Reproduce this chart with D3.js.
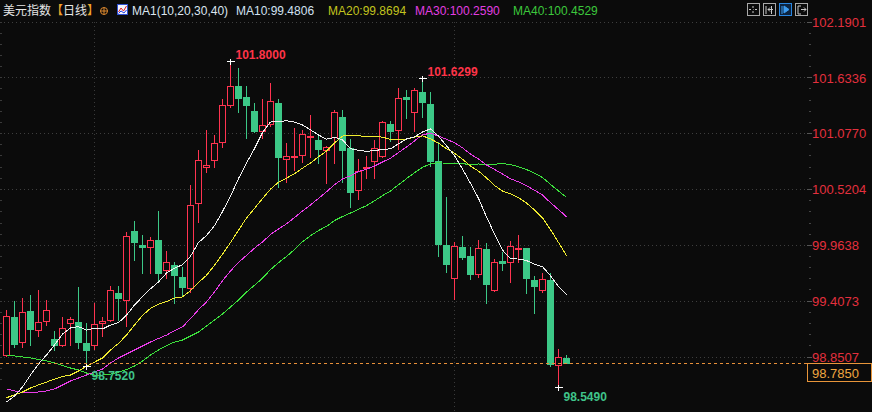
<!DOCTYPE html>
<html><head><meta charset="utf-8">
<script src="https://cdn.jsdelivr.net/npm/d3@7"></script>
<style>
html,body{margin:0;padding:0;background:#0b0b0b;overflow:hidden}
svg{display:block}
</style></head><body>
<svg id="c" width="872" height="412"></svg>
<script>
// ---- data ----
const opens  = [98.863,99.245,98.992,99.305,99.112,99.202,99.025,98.969,99.182,99.195,98.986,98.963,99.182,99.212,99.484,99.411,100.102,99.963,99.940,100.012,99.713,99.760,99.644,99.531,100.378,100.743,100.810,100.987,101.355,101.548,101.438,101.299,101.096,101.166,101.378,100.823,100.840,100.863,101.039,101.009,100.910,101.036,101.236,100.927,100.511,100.727,100.797,100.847,101.169,101.106,101.438,101.286,101.485,101.371,100.800,99.963,99.637,99.940,99.853,99.671,99.920,99.511,99.803,99.790,99.923,99.930,99.614,99.511,99.614,98.766,98.836];
const highs  = [99.315,99.404,99.434,99.464,99.517,99.417,99.108,99.245,99.248,99.544,99.182,99.384,99.248,99.554,99.554,100.092,100.202,100.062,100.045,100.302,99.906,99.793,99.746,100.558,100.910,101.109,101.059,101.415,101.800,101.727,101.548,101.381,101.415,101.581,101.418,100.977,101.126,101.109,101.259,101.069,100.950,101.309,101.309,101.017,100.820,100.850,101.009,101.199,101.199,101.531,101.508,101.525,101.6299,101.488,100.993,100.444,99.996,100.052,99.946,100.010,99.983,99.820,99.893,100.003,100.062,99.933,99.654,99.681,99.681,98.926,98.869];
const lows   = [98.860,98.946,98.948,98.966,99.058,99.165,98.916,98.959,98.966,98.939,98.752,98.926,99.052,99.208,99.212,99.158,99.816,99.681,99.681,99.597,99.631,99.387,99.454,99.497,100.195,100.687,100.743,100.943,101.341,101.292,101.032,101.092,101.032,101.149,100.544,100.594,100.710,100.793,100.843,100.783,100.578,100.783,100.594,100.345,100.424,100.628,100.628,100.840,101.003,100.920,101.232,101.102,101.242,100.753,99.856,99.696,99.421,99.823,99.627,99.641,99.387,99.505,99.713,99.597,99.790,99.481,99.282,99.497,98.759,98.549,98.785];
const closes = [99.255,98.972,99.291,99.128,99.192,99.312,98.969,99.135,99.222,98.999,98.919,99.172,99.205,99.514,99.437,100.052,99.996,99.946,100.015,99.687,99.793,99.667,99.547,100.358,100.807,100.757,100.977,101.355,101.545,101.431,101.355,101.102,101.156,101.395,100.843,100.847,100.850,101.069,101.049,100.920,100.937,101.286,100.913,100.494,100.700,100.737,100.927,101.189,101.102,101.425,101.418,101.505,101.391,100.803,99.976,99.776,99.950,99.846,99.677,99.930,99.577,99.790,99.786,99.953,99.936,99.637,99.557,99.621,98.773,98.846,98.785];

const ma10 = [98.397,98.457,98.547,98.666,98.776,98.866,98.965,99.075,99.135,99.148,99.114,99.134,99.125,99.164,99.188,99.262,99.365,99.446,99.526,99.594,99.682,99.731,99.765,99.850,99.987,100.057,100.155,100.296,100.449,100.624,100.780,100.923,101.084,101.188,101.192,101.201,101.188,101.159,101.110,101.059,101.017,101.035,101.011,100.921,100.907,100.896,100.903,100.915,100.921,100.971,101.019,101.041,101.089,101.120,101.047,100.951,100.854,100.719,100.577,100.427,100.243,100.072,99.911,99.826,99.822,99.808,99.769,99.746,99.656,99.548,99.468];
const ma20 = [98.440,98.467,98.497,98.537,98.567,98.596,98.626,98.651,98.666,98.706,98.755,98.795,98.836,98.915,98.982,99.064,99.165,99.261,99.330,99.371,99.398,99.433,99.445,99.507,99.588,99.660,99.760,99.871,99.987,100.109,100.231,100.327,100.425,100.519,100.589,100.629,100.672,100.728,100.780,100.841,100.898,100.979,101.048,101.054,101.049,101.048,101.046,101.037,101.015,101.015,101.018,101.038,101.050,101.020,100.977,100.923,100.878,100.817,100.749,100.699,100.631,100.556,100.500,100.473,100.435,100.380,100.311,100.233,100.116,99.987,99.856];
const ma30 = [98.527,98.507,98.492,98.487,98.497,98.507,98.527,98.567,98.607,98.636,98.666,98.696,98.726,98.786,98.836,98.876,98.915,98.955,98.995,99.030,99.064,99.107,99.146,99.227,99.317,99.395,99.495,99.606,99.703,99.789,99.859,99.930,99.992,100.067,100.122,100.173,100.236,100.301,100.362,100.426,100.493,100.563,100.620,100.653,100.695,100.718,100.749,100.790,100.827,100.884,100.939,101.000,101.061,101.076,101.048,101.016,100.982,100.931,100.869,100.819,100.760,100.716,100.670,100.622,100.592,100.552,100.509,100.460,100.384,100.315,100.244];
const ma40 = [98.856,98.856,98.846,98.836,98.821,98.806,98.786,98.761,98.736,98.716,98.686,98.666,98.666,98.676,98.696,98.721,98.756,98.806,98.866,98.915,98.960,98.995,99.015,99.055,99.095,99.155,99.215,99.274,99.344,99.414,99.493,99.561,99.631,99.717,99.786,99.847,99.918,99.994,100.055,100.106,100.148,100.206,100.246,100.281,100.318,100.354,100.403,100.454,100.501,100.562,100.624,100.683,100.737,100.770,100.783,100.776,100.775,100.773,100.764,100.770,100.765,100.768,100.774,100.764,100.742,100.714,100.678,100.635,100.566,100.501,100.437];

const yTicks = [98.8507, 99.4073, 99.9638, 100.5204, 101.0770, 101.6336, 102.1901];
const gridCandles = [11, 56];
const lastPrice = 98.7850;
const title = "美元指数";
const period = "日线";
const maParams = "MA1(10,20,30,40)";
const maLegend = [
  {name:"MA10", value:"99.4806", color:"#d2e2f2", line:"#f0f0f0", data: ma10},
  {name:"MA20", value:"99.8694", color:"#c2c41e", line:"#f0ec30", data: ma20},
  {name:"MA30", value:"100.2590", color:"#e23ee2", line:"#e83ce8", data: ma30},
  {name:"MA40", value:"100.4529", color:"#3cc83c", line:"#3ce03c", data: ma40}
];
const extremes = [
  {i:28, value:101.8000, kind:"high"},
  {i:52, value:101.6299, kind:"high"},
  {i:10, value:98.7520, kind:"low"},
  {i:69, value:98.5490, kind:"low"}
];

// ---- drawing ----
const W = 872, H = 412;
const N = closes.length;
const svg = d3.select("#c");
const BG = "#0b0b0b";
const RED = "#ff3350", GREEN = "#3cc887";
svg.append("rect").attr("width", W).attr("height", H).attr("fill", BG);

const x = d3.scaleLinear().domain([0, N - 1]).range([6.5, 6.5 + 8 * (N - 1)]);
const y = d3.scaleLinear().domain([98.8507, 102.1901]).range([356.5, 21.5]);
const py = v => Math.round(y(v)) + 0.5;

const axisX = 810;
// horizontal grid
svg.append("g").selectAll("line").data(yTicks).join("line")
  .attr("x1", 0).attr("x2", axisX + 2)
  .attr("y1", d => py(d)).attr("y2", d => py(d))
  .attr("stroke", "#3e3e3e").attr("stroke-dasharray", "1,3")
  .attr("shape-rendering", "crispEdges");
// vertical grid
svg.append("g").selectAll("line").data(gridCandles).join("line")
  .attr("x1", d => x(d)).attr("x2", d => x(d))
  .attr("y1", 22).attr("y2", 412)
  .attr("stroke", "#3a3a3a").attr("stroke-dasharray", "1,3")
  .attr("shape-rendering", "crispEdges");

// right axis ticks (major + minor)
const yAxis = d3.axisRight(y).tickValues(yTicks).tickFormat(d3.format(".4f")).tickSize(0);
const axG = svg.append("g").attr("transform", `translate(${axisX},0)`).call(yAxis);
axG.select(".domain").remove();
axG.selectAll("text").attr("x", 2).attr("dy", "0.36em")
  .attr("fill", "#e3303e").style("font", "13px 'Liberation Sans', Arial, sans-serif")
  .attr("text-anchor", "start");
const minor = [];
for (let k = 0; k < yTicks.length - 1; k++) {
  for (let m = 1; m < 5; m++) minor.push(yTicks[k] + (yTicks[k + 1] - yTicks[k]) * m / 5);
}
minor.push(yTicks[0] - (yTicks[1]-yTicks[0]) / 5);
minor.push(yTicks[0] - 2*(yTicks[1]-yTicks[0]) / 5);
svg.append("g").selectAll("line").data(minor).join("line")
  .attr("x1", axisX - 1).attr("x2", axisX + 1)
  .attr("y1", d => py(d)).attr("y2", d => py(d))
  .attr("stroke", "#444").attr("shape-rendering", "crispEdges");
svg.append("g").selectAll("line").data(yTicks).join("line")
  .attr("x1", axisX - 3).attr("x2", axisX + 2)
  .attr("y1", d => py(d)).attr("y2", d => py(d))
  .attr("stroke", "#555").attr("shape-rendering", "crispEdges");
// left side minor ticks
svg.append("g").selectAll("line").data(minor.concat(yTicks)).join("line")
  .attr("x1", 0).attr("x2", 2)
  .attr("y1", d => py(d)).attr("y2", d => py(d))
  .attr("stroke", "#3a3a3a").attr("shape-rendering", "crispEdges");

// candles
const cg = svg.append("g").attr("shape-rendering", "crispEdges");
const idx = d3.range(N);
cg.selectAll("line.wick").data(idx).join("line")
  .attr("x1", i => x(i)).attr("x2", i => x(i))
  .attr("y1", i => Math.round(y(highs[i]))).attr("y2", i => Math.round(y(lows[i])) + 1)
  .attr("stroke", i => closes[i] >= opens[i] ? RED : GREEN).attr("stroke-width", 1);
cg.selectAll("rect.body").data(idx).join("rect")
  .attr("x", i => closes[i] >= opens[i] ? x(i) - 3 : x(i) - 3.5)
  .attr("width", i => closes[i] >= opens[i] ? 6 : 7)
  .attr("y", i => {
    const t = Math.round(y(Math.max(opens[i], closes[i])));
    return closes[i] >= opens[i] ? t + 0.5 : t;
  })
  .attr("height", i => {
    const t = Math.round(y(Math.max(opens[i], closes[i])));
    const b = Math.round(y(Math.min(opens[i], closes[i])));
    return closes[i] >= opens[i] ? Math.max(b - t, 1) : Math.max(b - t + 1, 1);
  })
  .attr("fill", i => closes[i] >= opens[i] ? BG : GREEN)
  .attr("stroke", i => closes[i] >= opens[i] ? RED : "none")
  .attr("stroke-width", 1);

// moving averages
const line = d3.line().x((d, i) => x(i)).y(d => y(d));
svg.append("g").selectAll("path").data(maLegend.slice().reverse()).join("path")
  .attr("d", d => line(d.data)).attr("fill", "none")
  .attr("stroke", d => d.line).attr("stroke-width", 1)
  .attr("shape-rendering", "crispEdges");

// last price dashed line + box
const ly = Math.round(y(lastPrice)) + 0.5;
svg.append("line").attr("x1", 0).attr("x2", 807).attr("y1", ly).attr("y2", ly)
  .attr("stroke", "#e8903a").attr("stroke-dasharray", "3,3").attr("shape-rendering", "crispEdges");
svg.append("rect").attr("x", 807.5).attr("y", ly).attr("width", 64).attr("height", 18)
  .attr("fill", BG).attr("stroke", "#e8953a").attr("shape-rendering", "crispEdges");
svg.append("text").attr("x", 812).attr("y", ly + 14).text(d3.format(".4f")(lastPrice))
  .attr("fill", "#f0a640").style("font", "13px 'Liberation Sans', Arial, sans-serif");

// extremes
const eg = svg.append("g");
extremes.forEach(e => {
  const cx = x(e.i), cy = Math.round(y(e.value)) + 0.5;
  eg.append("line").attr("x1", cx - 4).attr("x2", cx + 4).attr("y1", cy).attr("y2", cy)
    .attr("stroke", "#ffffff").attr("shape-rendering", "crispEdges");
  eg.append("line").attr("x1", cx).attr("x2", cx).attr("y1", cy - 3).attr("y2", cy + 3)
    .attr("stroke", "#ffffff").attr("shape-rendering", "crispEdges");
  const tx = cx + 5;
  const ty = e.kind === "high" ? cy - 3 : cy + 13;
  eg.append("text").attr("x", tx).attr("y", ty).text(d3.format(".4f")(e.value))
    .attr("fill", e.kind === "high" ? "#ff3448" : "#3fc48a")
    .style("font", "bold 12px 'Liberation Sans', Arial, sans-serif");
});

// header
const hg = svg.append("g").style("font", "12px 'Liberation Sans', 'Noto Sans CJK SC', Arial, sans-serif");
const t1 = hg.append("text").attr("x", 3).attr("y", 15);
t1.append("tspan").text(title).attr("fill", "#e6e6e6").style("font-family", "'Noto Sans CJK SC', sans-serif");
t1.append("tspan").text("【").attr("fill", "#f0a22a").style("font-family", "'Noto Sans CJK SC', sans-serif");
t1.append("tspan").text(period).attr("fill", "#e6e6e6").style("font-family", "'Noto Sans CJK SC', sans-serif");
t1.append("tspan").text("】").attr("fill", "#f0a22a").style("font-family", "'Noto Sans CJK SC', sans-serif");
// small circle icon
hg.append("circle").attr("cx", 104).attr("cy", 11).attr("r", 3.5).attr("fill", "none").attr("stroke", "#e08a2e");
hg.append("line").attr("x1", 100.5).attr("x2", 107.5).attr("y1", 11).attr("y2", 11).attr("stroke", "#e08a2e");
hg.append("line").attr("x1", 104).attr("x2", 104).attr("y1", 7.5).attr("y2", 14.5).attr("stroke", "#e08a2e");
// MA icon
hg.append("rect").attr("x", 117.5).attr("y", 4.5).attr("width", 10).attr("height", 10)
  .attr("fill", "#f4f4ff").attr("stroke", "#3050d0");
hg.append("polyline").attr("points", "118.5,12 121,8 123.5,11 126.5,6").attr("fill", "none").attr("stroke", "#e02020");
hg.append("polyline").attr("points", "118.5,13.5 121,11 124,13 126.5,10").attr("fill", "none").attr("stroke", "#2040e0");
hg.append("text").attr("x", 132).attr("y", 15).text(maParams).attr("fill", "#dce6f0");
const legX = [236, 328, 415, 513];
maLegend.forEach((m, k) => {
  hg.append("text").attr("x", legX[k]).attr("y", 15).text(m.name + ":" + m.value).attr("fill", m.color);
});
// toolbar icons
const icx = [747, 763, 779, 795];
icx.forEach((ix, k) => {
  const hl = k === 2;
  hg.append("rect").attr("x", ix + 0.5).attr("y", 3.5).attr("width", 12).attr("height", 12)
    .attr("fill", hl ? "#0c2440" : "none").attr("stroke", hl ? "#2a86e0" : "#a8a8a8")
    .attr("shape-rendering", "crispEdges");
});
// glyphs
const gcol = "#c8c8c8";
hg.append("path").attr("d", "M753,6 v2 M753,11 v2 M749,9.5 h2 M755,9.5 h2 M753,9.5 h0.5").attr("stroke", gcol).attr("fill", "none");
hg.append("path").attr("d", "M766,6 v8 M768,9.5 h5 M771.5,6 v8 M768,9.5 l2,-2 M768,9.5 l2,2").attr("stroke", gcol).attr("fill", "none");
hg.append("path").attr("d", "M782,6 v8 M784,6 l5,3.5 l-5,3.5 z").attr("stroke", "#3c9cf0").attr("fill", "#3c9cf0");
hg.append("path").attr("d", "M798,6 v8 h3 M798,6 h3 M801,9.5 h5 M804,7.5 l2,2 l-2,2").attr("stroke", gcol).attr("fill", "none");
</script>
</body></html>
